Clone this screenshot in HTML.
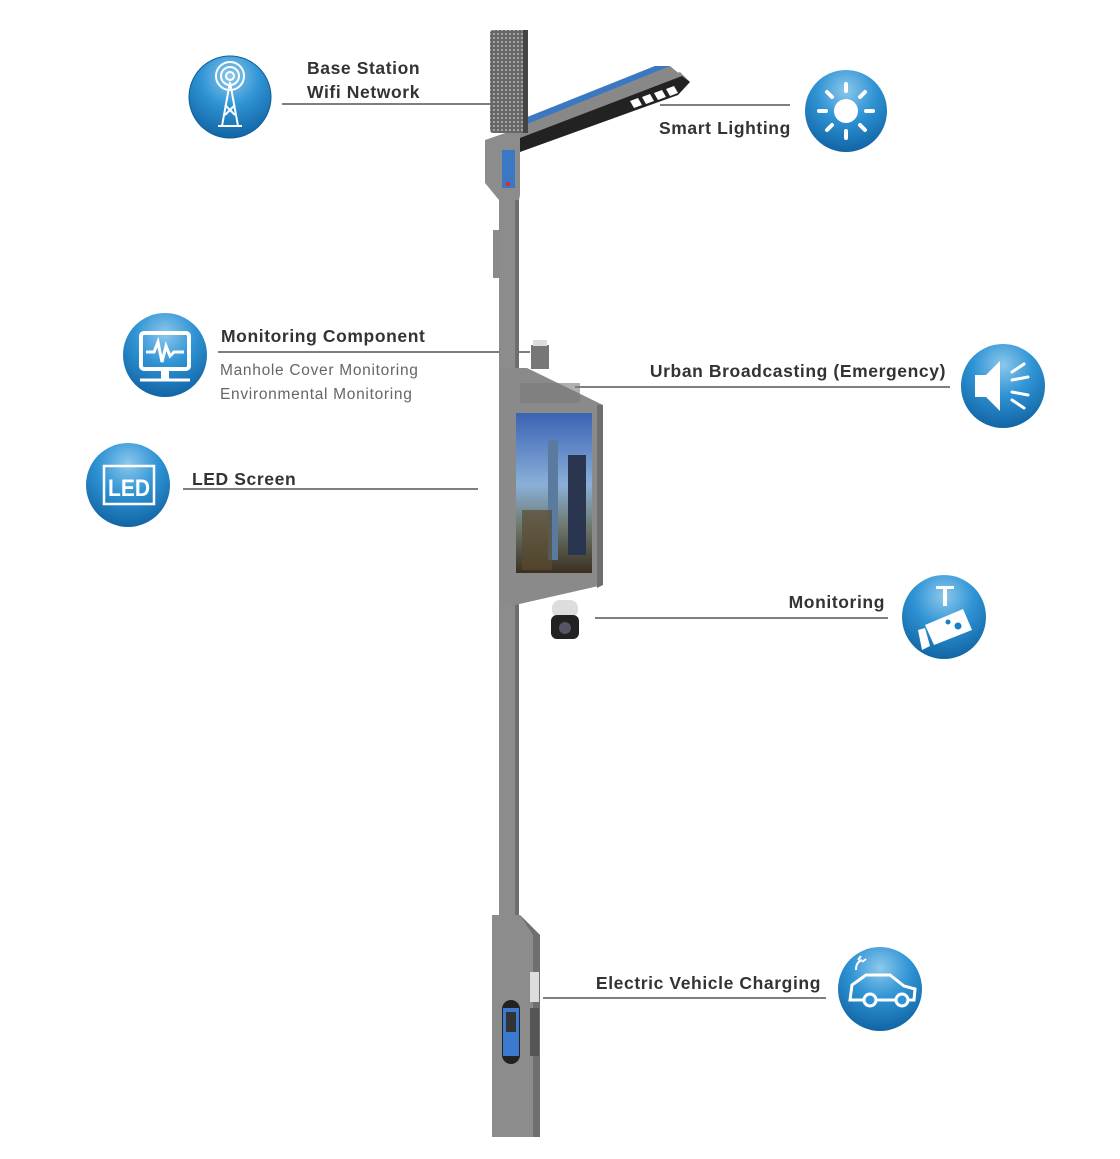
<!DOCTYPE html>
<html><head><meta charset="utf-8"><style>
html,body{margin:0;padding:0;background:#fff;}
svg{display:block;}
text{font-family:"Liberation Sans",sans-serif;}
.t{font-size:17.5px;font-weight:bold;fill:#333;letter-spacing:0.6px;}
.s{font-size:15.5px;fill:#666;letter-spacing:0.7px;}
.ln{stroke:#555;stroke-width:1.5;}
.w{fill:#fff;}
.ws{stroke:#fff;fill:none;}
</style></head><body>
<svg width="1120" height="1159" viewBox="0 0 1120 1159" xmlns="http://www.w3.org/2000/svg">
<defs>
<radialGradient id="g" cx="50%" cy="25%" r="80%">
<stop offset="0" stop-color="#8cc8ec"/><stop offset="0.45" stop-color="#2f93d4"/><stop offset="1" stop-color="#0e5f9e"/>
</radialGradient>
<linearGradient id="sky" x1="0" y1="0" x2="0" y2="1">
<stop offset="0" stop-color="#3b63b5"/><stop offset="0.45" stop-color="#8ab0d8"/><stop offset="0.7" stop-color="#6f7a70"/><stop offset="1" stop-color="#3a3020"/>
</linearGradient>
<pattern id="dots" width="4" height="4" patternUnits="userSpaceOnUse"><rect width="4" height="4" fill="#666"/><circle cx="2" cy="2" r="1.1" fill="#aaa"/></pattern>
</defs>

<line class="ln" x1="282" y1="104" x2="490" y2="104"/>
<line class="ln" x1="660" y1="105" x2="790" y2="105"/>
<line class="ln" x1="218" y1="352" x2="530" y2="352"/>
<line class="ln" x1="575" y1="387" x2="950" y2="387"/>
<line class="ln" x1="183" y1="489" x2="478" y2="489"/>
<line class="ln" x1="595" y1="618" x2="888" y2="618"/>
<line class="ln" x1="543" y1="998" x2="826" y2="998"/>

<rect x="499" y="200" width="20" height="730" fill="#8c8c8c"/>
<rect x="515" y="200" width="4" height="730" fill="#6e6e6e"/>
<rect x="493" y="230" width="7" height="48" fill="#8a8a8a"/>
<polygon points="485,140 520,128 680,72 690,82 520,148 520,195 519,200 499,200 485,183" fill="#8c8c8c"/>
<polygon points="525,118 655,66 670,66 682,76 520,138" fill="#888"/>
<polygon points="525,118 655,66 670,66 527,124" fill="#3a78c4"/>
<polygon points="520,138 682,76 690,82 678,95 520,152" fill="#222"/>
<polygon points="630,101 638,98 642,105 634,108" fill="#fff"/>
<polygon points="642,97 650,94 654,101 646,104" fill="#fff"/>
<polygon points="654,93 662,90 666,97 658,100" fill="#fff"/>
<polygon points="666,89 674,86 678,93 670,96" fill="#fff"/>
<rect x="502" y="150" width="13" height="38" fill="#3a78c4"/>
<circle cx="508" cy="184" r="2" fill="#e22"/>
<rect x="490" y="30" width="38" height="103" rx="3" fill="url(#dots)"/>
<rect x="523" y="30" width="5" height="103" fill="#444"/>

<rect x="531" y="345" width="18" height="24" fill="#777"/>
<rect x="533" y="340" width="14" height="6" fill="#ddd"/>
<polygon points="500,368 527,368 603,405 603,585 515,605 500,605" fill="#8a8a8a"/>
<polygon points="597,405 603,405 603,585 597,588" fill="#6e6e6e"/>
<rect x="520" y="383" width="60" height="20" fill="#7a7a7a" opacity="0.6"/>
<rect x="516" y="413" width="76" height="160" fill="url(#sky)"/>
<rect x="548" y="440" width="10" height="120" fill="#5a7aa0"/>
<rect x="568" y="455" width="18" height="100" fill="#2a3550"/>
<rect x="522" y="510" width="30" height="60" fill="#5a4a30" opacity="0.7"/>
<rect x="552" y="600" width="26" height="18" rx="8" fill="#ddd"/>
<rect x="551" y="615" width="28" height="24" rx="6" fill="#222"/>
<circle cx="565" cy="628" r="6" fill="#556"/>

<polygon points="492,915 520,915 540,935 540,1137 492,1137" fill="#8c8c8c"/>
<polygon points="520,915 540,935 540,1137 533,1137 533,935" fill="#6f6f6f"/>
<rect x="530" y="972" width="9" height="30" fill="#ddd"/>
<rect x="530" y="1008" width="9" height="48" fill="#555"/>
<rect x="502" y="1000" width="18" height="64" rx="9" fill="#222"/>
<rect x="503" y="1008" width="16" height="48" fill="#3a7bd0"/>
<rect x="506" y="1012" width="10" height="20" fill="#333"/>

<g>
<circle cx="230" cy="97" r="41" fill="url(#g)" stroke="#0e5f9e" stroke-width="1"/>
<g class="ws" stroke-width="2"><circle cx="230" cy="76" r="4"/><circle cx="230" cy="76" r="9"/><circle cx="230" cy="76" r="14"/>
<polyline points="222,126 230,82 238,126"/><line x1="218" y1="126" x2="242" y2="126"/><line x1="225" y1="105" x2="235" y2="115"/><line x1="235" y1="105" x2="225" y2="115"/></g>
</g>
<g>
<circle cx="846" cy="111" r="41" fill="url(#g)"/>
<circle cx="846" cy="111" r="12" class="w"/>
<g stroke="#fff" stroke-width="4" stroke-linecap="round">
<line x1="846" y1="84" x2="846" y2="91"/><line x1="846" y1="131" x2="846" y2="138"/>
<line x1="819" y1="111" x2="826" y2="111"/><line x1="866" y1="111" x2="873" y2="111"/>
<line x1="827" y1="92" x2="832" y2="97"/><line x1="860" y1="125" x2="865" y2="130"/>
<line x1="865" y1="92" x2="860" y2="97"/><line x1="832" y1="125" x2="827" y2="130"/></g>
</g>
<g>
<circle cx="165" cy="355" r="42" fill="url(#g)"/>
<rect x="141" y="333" width="48" height="36" rx="3" class="ws" stroke-width="4"/>
<polyline class="ws" stroke-width="3" points="146,352 154,352 158,342 162,362 166,346 170,356 174,352 184,352"/>
<line x1="140" y1="380" x2="190" y2="380" stroke="#fff" stroke-width="3"/>
<rect x="161" y="369" width="8" height="10" class="w"/>
</g>
<g>
<circle cx="1003" cy="386" r="42" fill="url(#g)"/>
<polygon points="975,375 986,375 1000,361 1000,411 986,397 975,397" class="w"/>
<g stroke="#fff" stroke-width="3" stroke-linecap="round"><line x1="1012" y1="372" x2="1024" y2="364"/><line x1="1012" y1="380" x2="1028" y2="377"/><line x1="1012" y1="392" x2="1028" y2="395"/><line x1="1012" y1="400" x2="1024" y2="408"/></g>
</g>
<g>
<circle cx="128" cy="485" r="42" fill="url(#g)"/>
<rect x="104" y="466" width="50" height="38" class="ws" stroke-width="2.5"/>
<text x="108" y="496" font-size="24" font-weight="bold" fill="#fff" textLength="42" lengthAdjust="spacingAndGlyphs">LED</text>
</g>
<g>
<circle cx="944" cy="617" r="42" fill="url(#g)"/>
<rect x="936" y="586" width="18" height="3" class="w"/><rect x="943" y="588" width="4" height="18" class="w"/>
<polygon points="925,625 963,609 972,630 934,645" class="w"/>
<polygon points="918,630 925,628 930,646 922,650" class="w"/>
<circle cx="948" cy="622" r="2.5" fill="#1a7fc4"/><circle cx="958" cy="626" r="3.5" fill="#1a7fc4"/>
</g>
<g>
<circle cx="880" cy="989" r="42" fill="url(#g)"/>
<path class="ws" stroke-width="3" d="M850,1000 L852,985 L866,975 L890,975 L904,986 L915,989 L914,1000 Z"/>
<circle cx="870" cy="1000" r="6" fill="#2f93d4" stroke="#fff" stroke-width="3"/>
<circle cx="902" cy="1000" r="6" fill="#2f93d4" stroke="#fff" stroke-width="3"/>
<path class="ws" stroke-width="2" d="M856,970 q0,-8 6,-10 M858,960 l3,-4 M862,962 l4,-3"/>
</g>

<text class="t" x="307" y="74">Base Station</text>
<text class="t" x="307" y="98">Wifi Network</text>
<text class="t" x="659" y="134">Smart Lighting</text>
<text class="t" x="221" y="342">Monitoring Component</text>
<text class="s" x="220" y="375">Manhole Cover Monitoring</text>
<text class="s" x="220" y="399">Environmental Monitoring</text>
<text class="t" x="946" y="377" text-anchor="end">Urban Broadcasting (Emergency)</text>
<text class="t" x="192" y="485">LED Screen</text>
<text class="t" x="885" y="608" text-anchor="end">Monitoring</text>
<text class="t" x="821" y="989" text-anchor="end">Electric Vehicle Charging</text>
</svg>
</body></html>
